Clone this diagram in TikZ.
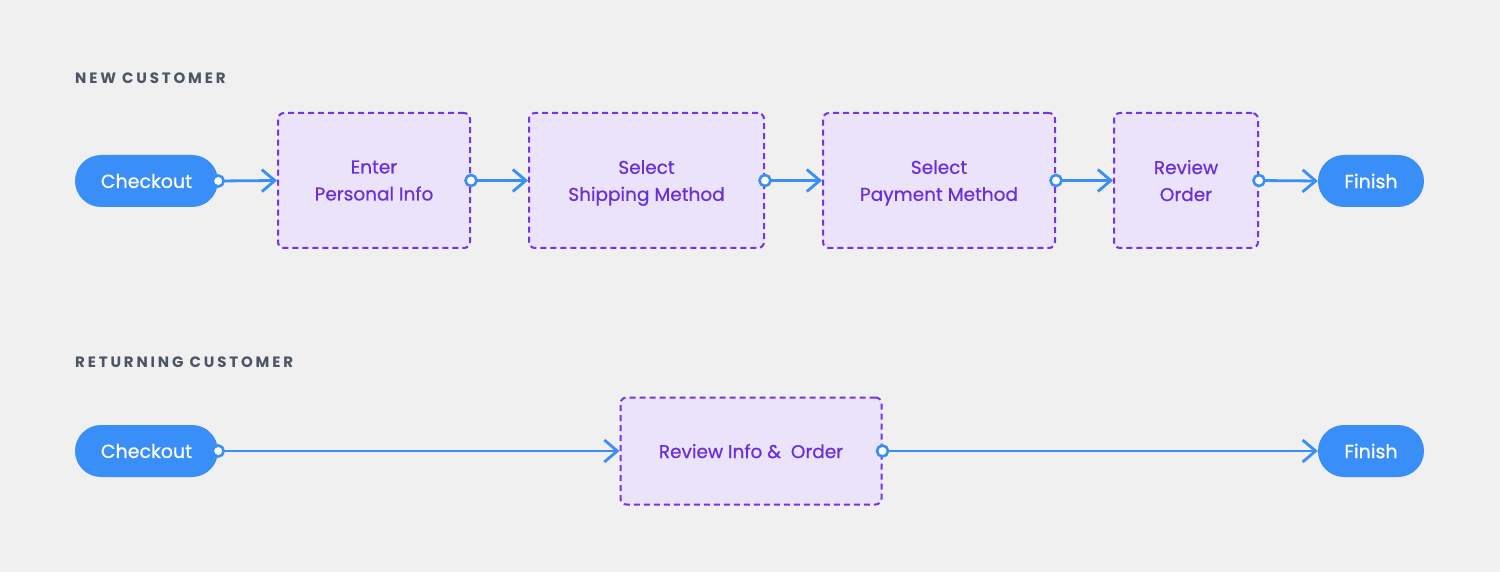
\documentclass[tikz,border=0pt]{standalone}
\usepackage{fontspec}
\setmainfont{Poppins}
\newfontfamily\medfont{Poppins}[FakeBold=0.7]
\usetikzlibrary{arrows.meta}
\definecolor{bgc}{HTML}{F0F0F0}
\definecolor{pillc}{HTML}{3A8EF7}
\definecolor{boxfill}{HTML}{EBE3F9}
\definecolor{boxline}{HTML}{7535E6}
\definecolor{boxtext}{HTML}{6A2FDB}
\definecolor{headc}{HTML}{4B5563}
\begin{document}
\begin{tikzpicture}[x=1pt,y=-1pt,
  pill/.style={rectangle, rounded corners=26pt, fill=pillc, text=white,
    minimum height=52pt, inner sep=0pt, font=\medfont\fontsize{19}{23}\selectfont},
  stepbox/.style={rectangle, rounded corners=6pt, fill=boxfill, draw=boxline,
    line width=2pt, dash pattern=on 6pt off 4pt, text=boxtext, align=center,
    minimum height=135pt, inner sep=0pt, text depth=0pt,
    font=\medfont\fontsize{18.5}{27}\selectfont},
  heading/.style={anchor=west, text=headc, inner sep=0pt,
    font=\fontsize{15}{17}\selectfont\bfseries\addfontfeatures{LetterSpace=19}},
  flow/.style={draw=pillc, line width=2.8pt,
    -{Straight Barb[length=13pt,width=22pt,line width=2.8pt]}},
  portdot/.style={draw=pillc, fill=white, line width=2.6pt}
]
\useasboundingbox[fill=bgc] (0,0) rectangle (1500,572);

\node[heading] (h1) at (75,78) {NEW CUSTOMER};
\node[heading] (h2) at (75,362) {RETURNING CUSTOMER};

\node[pill, minimum width=143pt] (c1) at (146.5,181) {Checkout};
\node[stepbox, minimum width=192pt] (b1) at (374,180.5) {Enter\\Personal Info};
\node[stepbox, minimum width=235pt] (b2) at (646.5,180.5) {Select\\Shipping Method};
\node[stepbox, minimum width=232pt] (b3) at (939,180.5) {Select\\Payment Method};
\node[stepbox, minimum width=144pt] (b4) at (1186,180.5) {Review\\Order};
\node[pill, minimum width=106pt] (f1) at (1371,181) {Finish};

\node[pill, minimum width=143pt] (c2) at (146.5,451) {Checkout};
\node[stepbox, minimum width=261pt, minimum height=107pt] (r) at (751,451) {Review Info \&\ \ Order};
\node[pill, minimum width=106pt] (f2) at (1371,451) {Finish};

\draw[flow] (c1.east) -- (b1.west);
\draw[flow] (b1.east) -- (b2.west);
\draw[flow] (b2.east) -- (b3.west);
\draw[flow] (b3.east) -- (b4.west);
\draw[flow] (b4.east) -- (f1.west);
\draw[flow] (c2.east) -- (r.west);
\draw[flow] (r.east) -- (f2.west);

\foreach \n in {c1,b1,b2,b3,b4,c2,r}
  \draw[portdot] (\n.east) circle (5.5pt);
\end{tikzpicture}
\end{document}
